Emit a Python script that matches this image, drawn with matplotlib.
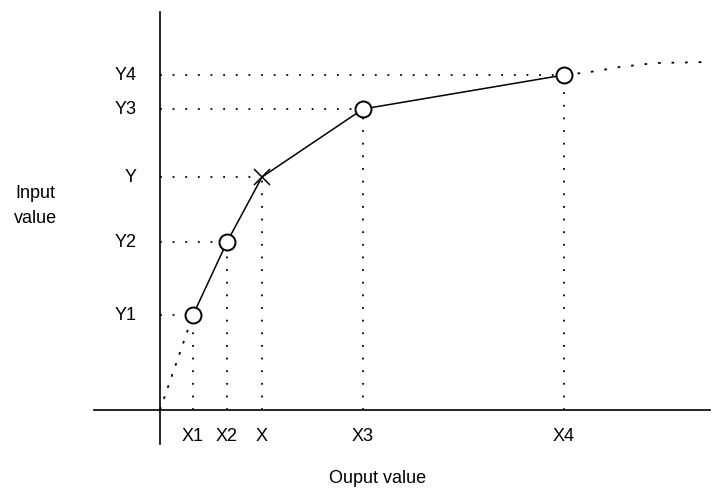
import matplotlib
matplotlib.use("Agg")
import matplotlib.pyplot as plt

plt.rcParams['font.family'] = ['Liberation Sans', 'DejaVu Sans']

# values in chart units (origin at the axes crossing)
x_names = ["X1", "X2", "X", "X3", "X4"]
y_names = ["Y1", "Y2", "Y", "Y3", "Y4"]
x_vals = [33, 67, 102, 203, 404]
y_vals = [95, 168, 233, 301, 335]
tail_x = [404, 430, 460, 495, 550]
tail_y = [335, 338, 343, 347, 348]

fig = plt.figure(figsize=(7.23, 4.89), dpi=100)
ax = fig.add_axes([0, 0, 1, 1])
ax.set_xlim(-160, 563)
ax.set_ylim(-78, 411)
ax.axis("off")

dot = (0, (1, 6))
# axes lines
ax.plot([-66, 550], [0, 0], color="black", lw=1.2)
ax.plot([0, 0], [-34, 398], color="black", lw=1.2)

# guide lines
for xv, yv in zip(x_vals, y_vals):
    ax.plot([xv, xv], [0, yv], color="black", lw=1.3, ls=dot)
    ax.plot([0, xv], [yv, yv], color="black", lw=1.3, ls=dot)

# dotted extensions
ax.plot([0, x_vals[0]], [0, y_vals[0]], color="black", lw=1.3, ls=(0, (1.5, 5)))
ax.plot(tail_x, tail_y, color="black", lw=1.3, ls=(0, (1.5, 6)))

# main line
ax.plot(x_vals, y_vals, color="black", lw=1.1)
circ = [0, 1, 3, 4]
ax.plot([x_vals[i] for i in circ], [y_vals[i] for i in circ], "o", ms=11.5,
        mfc="white", mec="black", mew=1.4)
ax.plot(x_vals[2], y_vals[2], "x", ms=12, mec="black", mew=1.1)

fs = 13
for xv, name in zip(x_vals, x_names):
    ax.text(xv, -26, name, ha="center", va="center", fontsize=fs)
for yv, name in zip(y_vals, y_names):
    ax.text(-23, yv, name, ha="right", va="center", fontsize=fs)

ax.text(-125, 205, "Input\nvalue", ha="center", va="center", fontsize=fs,
        linespacing=1.55)
ax.text(218, -68, "Ouput value", ha="center", va="center", fontsize=fs)

fig.savefig("out.png", dpi=100)
